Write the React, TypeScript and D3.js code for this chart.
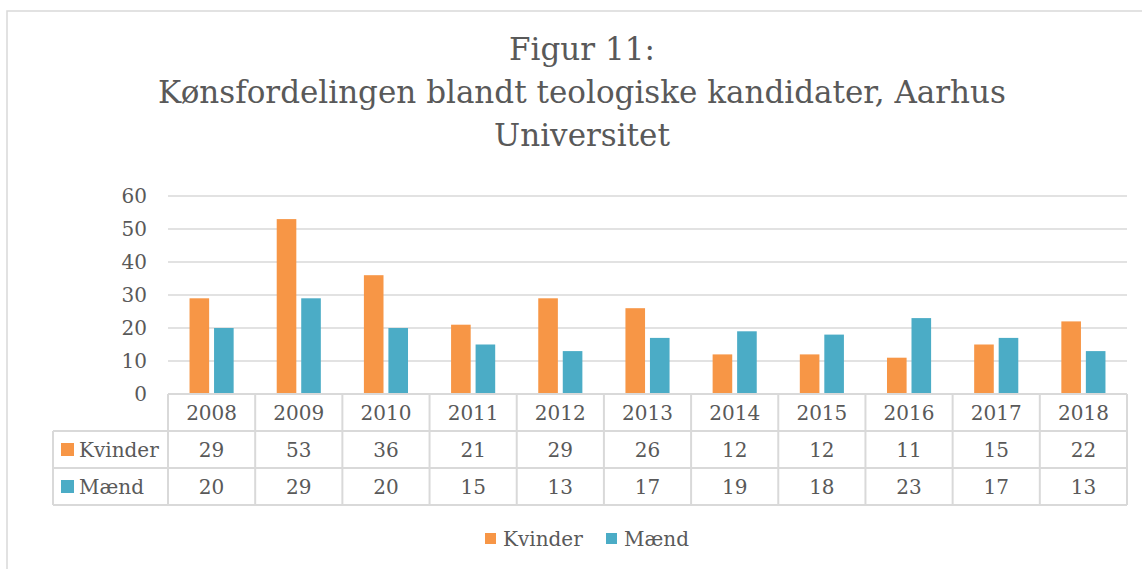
import React, { useRef, useEffect } from 'react';
import * as d3 from 'd3';

const years = ['2008', '2009', '2010', '2011', '2012', '2013', '2014', '2015', '2016', '2017', '2018'];
const seriesNames = ['Kvinder', 'Mænd'];
const kvinder = [29, 53, 36, 21, 29, 26, 12, 12, 11, 15, 22];
const maend = [20, 29, 20, 15, 13, 17, 19, 18, 23, 17, 13];
const yTicks = [0, 10, 20, 30, 40, 50, 60];
const titleLines = ['Figur 11:', 'Kønsfordelingen blandt teologiske kandidater, Aarhus', 'Universitet'];

const colors = ['#F79646', '#4BACC6'];
const textColor = '#595959';
const gridColor = '#D9D9D9';
const font = '"DejaVu Serif", serif';

const App = () => {
  const ref = useRef(null);

  useEffect(() => {
    const svg = d3.select(ref.current);
    svg.selectAll('*').remove();

    const W = 1142;
    const H = 569;
    const left = 168;
    const right = 1127;
    const top = 196;
    const bottom = 394;
    const rowH = 37;

    // outer chart frame
    svg.append('rect')
      .attr('x', 7).attr('y', 11)
      .attr('width', W + 20).attr('height', H + 20)
      .attr('fill', 'white')
      .attr('stroke', gridColor).attr('stroke-width', 1.5);

    // title
    const title = svg.append('text')
      .attr('text-anchor', 'middle')
      .attr('fill', textColor)
      .style('font-family', font)
      .style('font-size', '31px');
    titleLines.forEach((t, i) => {
      title.append('tspan').attr('x', 582).attr('y', 60 + i * 43).text(t);
    });

    const x = d3.scaleBand().domain(years).range([left, right]);
    const x1 = d3.scaleBand().domain(seriesNames)
      .range([x.bandwidth() * 0.247, x.bandwidth() * 0.753])
      .paddingInner(0.2);
    const y = d3.scaleLinear().domain([0, 60]).range([bottom, top]);

    // gridlines
    svg.append('g').selectAll('line')
      .data(yTicks.filter((d) => d > 0))
      .join('line')
      .attr('x1', left).attr('x2', right)
      .attr('y1', (d) => y(d)).attr('y2', (d) => y(d))
      .attr('stroke', gridColor).attr('stroke-width', 1.5);

    // y axis labels
    svg.append('g').selectAll('text')
      .data(yTicks)
      .join('text')
      .attr('x', 147)
      .attr('y', (d) => y(d))
      .attr('dy', '0.36em')
      .attr('text-anchor', 'end')
      .attr('fill', textColor)
      .style('font-family', font)
      .style('font-size', '20px')
      .text((d) => d);

    // bars
    const values = [kvinder, maend];
    seriesNames.forEach((s, si) => {
      svg.append('g').selectAll('rect')
        .data(years)
        .join('rect')
        .attr('x', (d) => x(d) + x1(s))
        .attr('y', (d, i) => y(values[si][i]))
        .attr('width', x1.bandwidth())
        .attr('height', (d, i) => bottom - y(values[si][i]))
        .attr('fill', colors[si]);
    });

    // data table
    const table = svg.append('g');
    const lineStyle = (sel) => sel.attr('stroke', gridColor).attr('stroke-width', 2).attr('fill', 'none');
    const tableBottom = bottom + rowH * 3;
    const legendLeft = 53;
    // horizontal lines
    table.append('line').attr('x1', left).attr('x2', right).attr('y1', bottom).attr('y2', bottom).call(lineStyle);
    [1, 2, 3].forEach((r) => {
      table.append('line')
        .attr('x1', legendLeft).attr('x2', right)
        .attr('y1', bottom + r * rowH).attr('y2', bottom + r * rowH)
        .call(lineStyle);
    });
    // vertical lines
    years.concat(['end']).forEach((yr, i) => {
      const xx = i < years.length ? x(yr) : right;
      table.append('line').attr('x1', xx).attr('x2', xx)
        .attr('y1', bottom).attr('y2', tableBottom).call(lineStyle);
    });
    table.append('line').attr('x1', legendLeft).attr('x2', legendLeft)
      .attr('y1', bottom + rowH).attr('y2', tableBottom).call(lineStyle);

    const cellText = (sel) => sel
      .attr('fill', textColor)
      .style('font-family', font)
      .style('font-size', '20px');

    table.append('g').selectAll('text')
      .data(years)
      .join('text')
      .attr('x', (d) => x(d) + x.bandwidth() / 2)
      .attr('y', bottom + rowH / 2)
      .attr('dy', '0.36em')
      .attr('text-anchor', 'middle')
      .call(cellText)
      .text((d) => d);

    seriesNames.forEach((s, si) => {
      const cy = bottom + rowH * (si + 1) + rowH / 2;
      table.append('rect')
        .attr('x', 61).attr('y', cy - 6.5)
        .attr('width', 13).attr('height', 13)
        .attr('fill', colors[si]);
      table.append('text')
        .attr('x', 79).attr('y', cy).attr('dy', '0.36em')
        .call(cellText)
        .text(s);
      table.append('g').selectAll('text')
        .data(years)
        .join('text')
        .attr('x', (d) => x(d) + x.bandwidth() / 2)
        .attr('y', cy)
        .attr('dy', '0.36em')
        .attr('text-anchor', 'middle')
        .call(cellText)
        .text((d, i) => values[si][i]);
    });

    // legend
    const legendX = [485, 606];
    seriesNames.forEach((s, si) => {
      svg.append('rect')
        .attr('x', legendX[si]).attr('y', 533)
        .attr('width', 11).attr('height', 11)
        .attr('fill', colors[si]);
      svg.append('text')
        .attr('x', legendX[si] + 18).attr('y', 539).attr('dy', '0.36em')
        .call(cellText)
        .text(s);
    });
  }, []);

  return (
    <svg
      ref={ref}
      width={1142}
      height={569}
      style={{ position: 'absolute', left: 0, top: 0, background: 'white' }}
    />
  );
};

export default App;
